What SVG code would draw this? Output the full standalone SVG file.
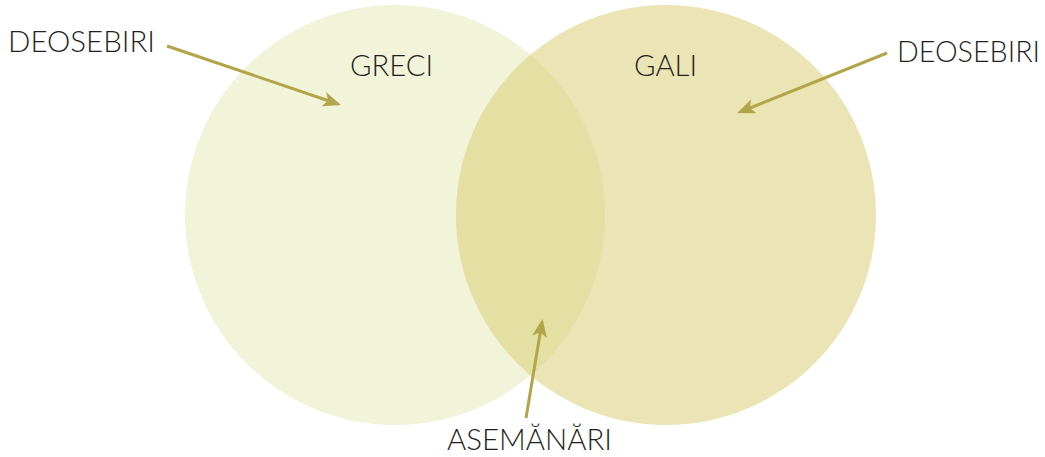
<svg xmlns="http://www.w3.org/2000/svg" width="1045" height="457" viewBox="0 0 1045 457">
<style>
.lbl{font-family:Lato,"Open Sans","Liberation Sans",sans-serif;font-weight:300;font-size:29px;fill:#231F20}
.arr{stroke:#B2A548;stroke-width:3;fill:none;marker-end:url(#ah)}
</style>
<defs>
<marker id="ah" viewBox="0 0 12 10" refX="10" refY="5" markerWidth="6" markerHeight="5" orient="auto" markerUnits="strokeWidth">
<path d="M0,0 L12,5 L0,10 L3,5 Z" fill="#B2A548"/>
</marker>
<clipPath id="cl"><circle cx="395" cy="215" r="210"/></clipPath>
</defs>
<rect width="1045" height="457" fill="#fff"/>
<g id="greci">
<circle cx="395" cy="215" r="210" fill="#F1F4D9"/>
<text class="lbl" x="350" y="76" textLength="83" lengthAdjust="spacingAndGlyphs">GRECI</text>
</g>
<g id="gali">
<circle cx="666" cy="215" r="210" fill="#EBE4B5"/>
<circle cx="666" cy="215" r="210" fill="#E4DFA2" clip-path="url(#cl)"/>
<text class="lbl" x="634" y="76" textLength="63" lengthAdjust="spacingAndGlyphs">GALI</text>
</g>
<g id="labels">
<text class="lbl" x="8" y="52" textLength="147" lengthAdjust="spacingAndGlyphs">DEOSEBIRI</text>
<text class="lbl" x="897" y="62" textLength="143" lengthAdjust="spacingAndGlyphs">DEOSEBIRI</text>
<text class="lbl" x="447" y="450" textLength="165" lengthAdjust="spacingAndGlyphs">ASEMĂNĂRI</text>
</g>
<g id="connectors">
<line class="arr" x1="167" y1="46" x2="338" y2="104"/>
<line class="arr" x1="887" y1="53" x2="740" y2="112"/>
<line class="arr" x1="526" y1="418" x2="542" y2="322"/>
</g>
</svg>
